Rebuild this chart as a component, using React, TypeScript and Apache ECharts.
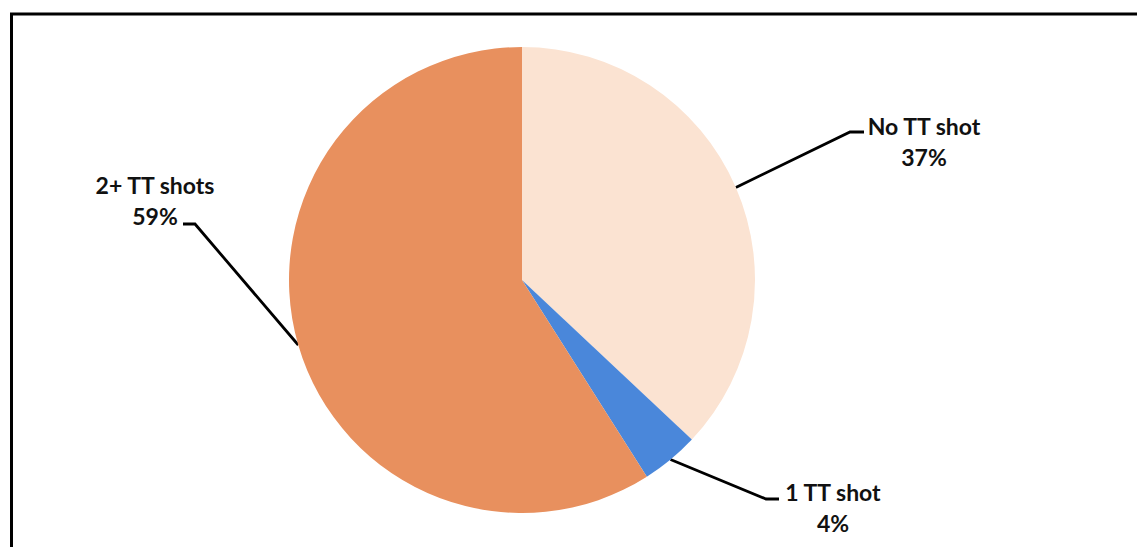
import React, { useEffect, useRef } from "react";
import * as echarts from "echarts";

const categories = ["No TT shot", "1 TT shot", "2+ TT shots"];
const values = [37, 4, 59];
const colors = ["#FBE3D2", "#4A87DA", "#E8905E"];

// label anchor positions (text block centres) and elbow points
const labelCentres = [
  [924, 141],
  [833, 507],
  [155, 200],
];
const elbows = [
  [[850, 132], [864, 132]],
  [[766, 499], [779, 499]],
  [[195, 224], [183, 224]],
];

export default function App() {
  const ref = useRef<HTMLDivElement>(null);
  useEffect(() => {
    if (!ref.current) return;
    const chart = echarts.init(ref.current, null, { renderer: "svg" });
    chart.setOption({
      animation: false,
      backgroundColor: "#ffffff",
      graphic: [
        {
          type: "rect",
          shape: { x: 11.5, y: 14, width: 1140, height: 560 },
          style: { fill: "none", stroke: "#000000", lineWidth: 3 },
          z: 10,
        },
      ],
      series: [
        {
          type: "pie",
          center: [522, 280],
          radius: 233,
          startAngle: 90,
          clockwise: true,
          data: categories.map((c, i) => ({
            name: c,
            value: values[i],
            itemStyle: { color: colors[i] },
          })),
          label: {
            show: true,
            formatter: "{b}\n{d}%",
            fontFamily: "Lato",
            fontWeight: "bold",
            fontSize: 23,
            lineHeight: 31,
            color: "#111111",
            align: "center",
          },
          labelLine: {
            show: true,
            lineStyle: { color: "#000000", width: 2.8 },
          },
          labelLayout: (params: any) => {
            const i = params.dataIndex;
            const p0 = params.labelLinePoints ? params.labelLinePoints[0] : [0, 0];
            return {
              x: labelCentres[i][0],
              y: labelCentres[i][1],
              align: "center",
              verticalAlign: "middle",
              labelLinePoints: [p0, elbows[i][0], elbows[i][1]],
            };
          },
        },
      ],
    });
    return () => chart.dispose();
  }, []);
  return (
    <div
      ref={ref}
      style={{ position: "absolute", left: 0, top: 0, width: 1137, height: 547 }}
    />
  );
}
